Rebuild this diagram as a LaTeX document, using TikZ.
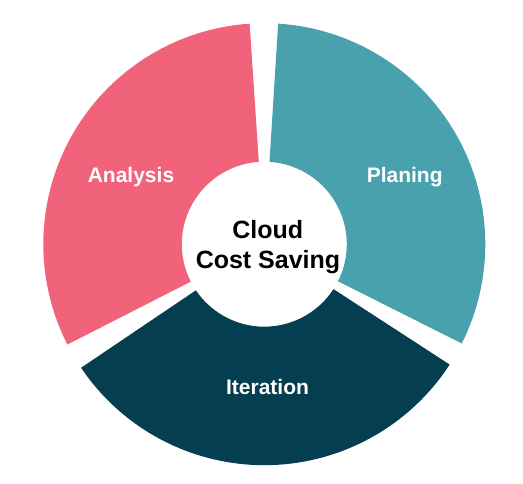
\documentclass[tikz,border=0pt]{standalone}
\usepackage{fontspec}
\setmainfont{Liberation Sans}
\definecolor{pinkc}{RGB}{241,99,123}
\definecolor{tealc}{RGB}{73,161,173}
\definecolor{navyc}{RGB}{6,62,81}
\tikzset{
  seglabel/.style={text=white,font=\bfseries\fontsize{21}{25}\selectfont,anchor=base,inner sep=0pt},
  centerlabel/.style={text=black,font=\bfseries\fontsize{25}{30}\selectfont,anchor=base,inner sep=0pt}
}
\newcommand{\segment}[3]{%
  \fill[#1,shift={(ctr)}] (#2:221pt) arc[start angle=#2,end angle=#3,radius=221pt]
    -- (#3:82.5pt) arc[start angle=#3,end angle=#2,radius=82.5pt] -- cycle;}
\begin{document}
\begin{tikzpicture}[x=1pt,y=1pt]
\useasboundingbox (0,0) rectangle (523,484);
\coordinate (ctr) at (264.3,239.8);
\segment{pinkc}{93.8}{207}
\segment{navyc}{214}{327}
\segment{tealc}{333.3}{446.4}
\node[seglabel] (analysis) at (131,301.7) {Analysis};
\node[seglabel] (planing) at (404.7,301.7) {Planing};
\node[seglabel] (iteration) at (267.5,89) {Iteration};
\node[centerlabel] (cloud) at (267.8,245.7) {Cloud};
\node[centerlabel] (cost) at (268,215.7) {Cost Saving};
\end{tikzpicture}
\end{document}
